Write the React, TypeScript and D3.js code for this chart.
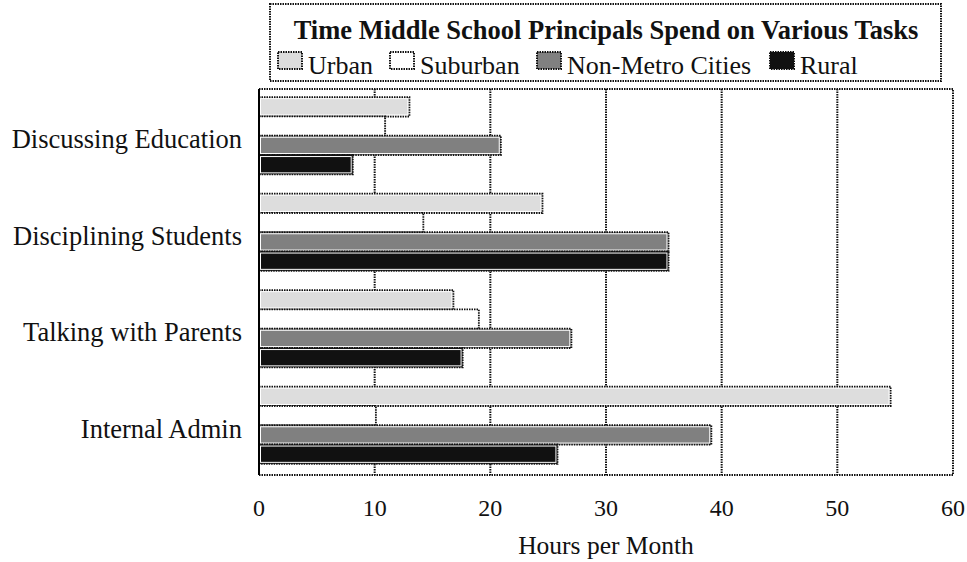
import React from "react";
import * as d3 from "d3";

const categories = ["Discussing Education", "Disciplining Students", "Talking with Parents", "Internal Admin"];
const seriesNames = ["Urban", "Suburban", "Non-Metro Cities", "Rural"];
const urban = [13, 24.5, 16.8, 54.6];
const suburban = [10.9, 14.2, 19.0, 10.1];
const nonMetro = [20.9, 35.4, 27.0, 39.1];
const rural = [8.1, 35.4, 17.6, 25.8];
const xTicks = [0, 10, 20, 30, 40, 50, 60];
const title = "Time Middle School Principals Spend on Various Tasks";
const xTitle = "Hours per Month";

const seriesValues = [urban, suburban, nonMetro, rural];
const colors = ["#dddddd", "#ffffff", "#808080", "#111111"];

const FONT = "'Liberation Serif', 'Times New Roman', serif";
const DOT = "1.5,1";

export default function App() {
  const W = 967, H = 562;
  const left = 259, right = 953, top = 89, bottom = 475;
  const x = d3.scaleLinear().domain([0, 60]).range([left, right]);
  const y = d3.scaleBand<string>().domain(categories).range([top, bottom]).paddingInner(0).paddingOuter(0);
  const inner = d3.scaleBand<string>().domain(seriesNames).range([-1.5, y.bandwidth() - 1.5]).paddingInner(0).paddingOuter(0.5);

  const legendX = [278, 390, 537, 770];

  return (
    <svg width={W} height={H} style={{ position: "absolute", left: 0, top: 0, background: "#fff" }} fontFamily={FONT}>
      {xTicks.filter(t => t > 0 && t < 60).map(t => (
        <line key={t} x1={x(t)} x2={x(t)} y1={top} y2={bottom} stroke="#111" strokeWidth={2} strokeDasharray={DOT} />
      ))}
      <rect x={left} y={top} width={right - left} height={bottom - top} fill="none" stroke="#111" strokeWidth={2} strokeDasharray={DOT} />
      {categories.map((c, ci) => (
        <g key={c} transform={`translate(0,${y(c)})`}>
          {seriesNames.map((s, si) => {
            const v = seriesValues[si][ci];
            const by = inner(s)!;
            const bh = inner.bandwidth();
            const bw = x(v) - x(0);
            return (
              <g key={s}>
                <rect x={x(0)} y={by} width={bw} height={bh} fill={colors[si]} stroke="#111" strokeWidth={2} strokeDasharray={DOT} />
                <rect x={x(0) + 1.5} y={by + 1.5} width={Math.max(0, bw - 3)} height={Math.max(0, bh - 3)} fill="none" stroke="#fff" strokeWidth={1} />
              </g>
            );
          })}
        </g>
      ))}
      <line x1={left} x2={left} y1={top} y2={bottom} stroke="#000" strokeWidth={2} />
      {categories.map(c => (
        <text key={c} x={242} y={y(c)! + y.bandwidth() / 2 + 11} textAnchor="end" fontSize={26.5} fill="#111">{c}</text>
      ))}
      {xTicks.map(t => (
        <text key={t} x={x(t)} y={516} textAnchor="middle" fontSize={24} fill="#111">{t}</text>
      ))}
      <text x={(left + right) / 2} y={554} textAnchor="middle" fontSize={25.5} fill="#111">{xTitle}</text>
      <rect x={270} y={4} width={671} height={77} fill="#fff" stroke="#111" strokeWidth={2} strokeDasharray={DOT} />
      <text x={606} y={39} textAnchor="middle" fontSize={26.5} fontWeight="bold" fill="#111">{title}</text>
      {seriesNames.map((s, i) => (
        <g key={s}>
          <rect x={legendX[i]} y={52} width={24} height={17} fill={colors[i]} stroke="#111" strokeWidth={2} strokeDasharray={DOT} />
          <text x={legendX[i] + 30} y={74} fontSize={26} fill="#111">{s}</text>
        </g>
      ))}
    </svg>
  );
}
